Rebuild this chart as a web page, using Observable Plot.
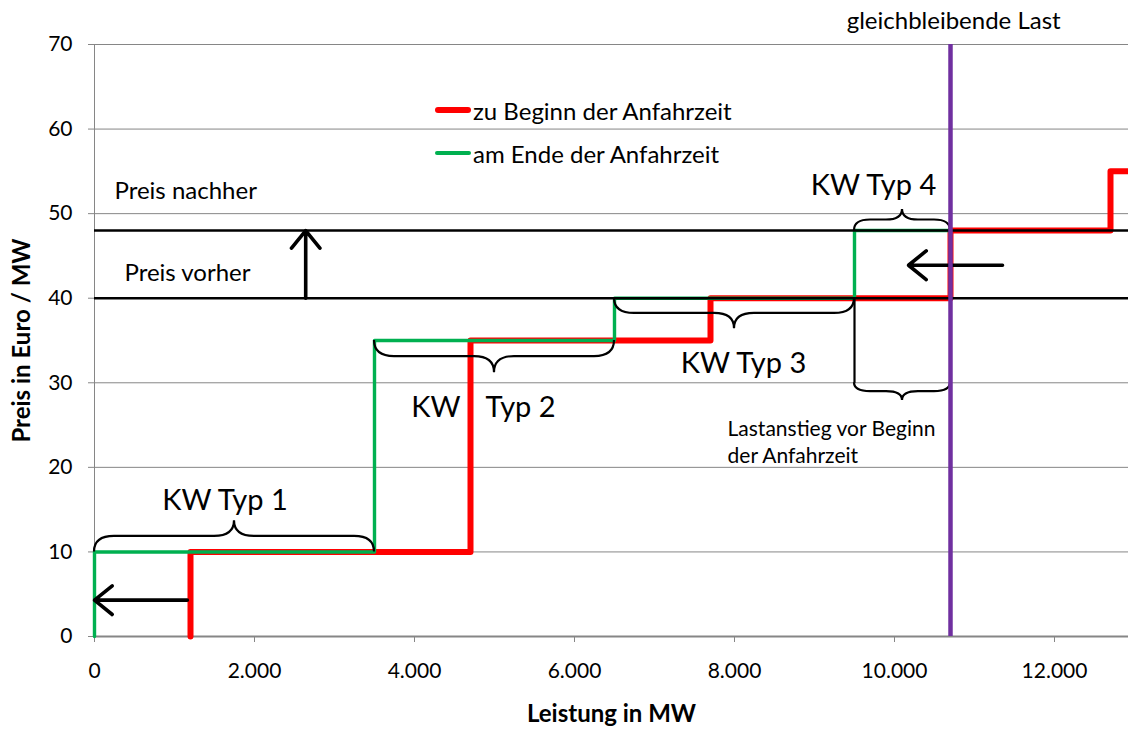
<!DOCTYPE html>
<html><head><meta charset="utf-8">
<script src="https://cdn.jsdelivr.net/npm/d3@7"></script>
<script src="https://cdn.jsdelivr.net/npm/@observablehq/plot@0.6"></script>
<style>
html,body{margin:0;padding:0;background:#fff;}
#wrap{position:relative;width:1128px;height:729px;font-family:Lato,sans-serif;}
.legend{position:absolute;left:435px;top:96px;font-size:24px;color:#000;}
.row{display:flex;align-items:center;height:28px;margin-bottom:15px;}
.sw{width:36px;border-radius:3px;margin-right:2px;}
</style></head><body><div id="wrap"></div>
<script>
// ---- data ----
const xMax = 12925;
const xTicks = [0, 2000, 4000, 6000, 8000, 10000, 12000];
const yTicks = [0, 10, 20, 30, 40, 50, 60, 70];
const redX = [1200, 1200, 4700, 7700, 10700, 12700, xMax];
const redY = [0, 10, 35, 40, 48, 55, 55];
const greenX = [0, 0, 3500, 6500, 9500, 10700];
const greenY = [0, 10, 35, 40, 48, 48];
const priceLevels = [40, 48];
const loadX = [10700];
const seriesNames = ["zu Beginn der Anfahrzeit", "am Ende der Anfahrzeit"];
const seriesColors = ["#FF0000", "#00B050"];

// braces: from x1 to x2 at level y, tip at tipY
const braceX1 = [0, 3500, 6500, 9500, 9500];
const braceX2 = [3500, 6500, 9500, 10700, 10700];
const braceY = [10, 35, 40, 48, 30];
const braceTipY = [13.7, 31.2, 36.4, 50.5, 27.9];
const braceVX = [9500, 10700];
const braceVY1 = [30, 30];
const braceVY2 = [40, 40];

// arrows
const arrowX1 = [2640, 1160, 11350];
const arrowY1 = [40, 4.3, 43.9];
const arrowX2 = [2640, 0, 10175];
const arrowY2 = [48, 4.3, 43.9];

// annotations
const priceTexts = ["Preis nachher", "Preis vorher"];
const priceX = [250, 375];
const priceY = [52.6, 43.0];
const kwMidTexts = ["KW Typ 1", "KW Typ 3", "KW Typ 4"];
const kwMidX = [1631, 8113, 9738];
const kwMidY = [16, 32.3, 53.3];
const kwEndTexts = ["KW"];
const kwEndX = [4575];
const kwEndY = [27.1];
const kwStartTexts = ["Typ 2"];
const kwStartX = [4888];
const kwStartY = [27.1];
const noteText = ["Lastanstieg vor Beginn\nder Anfahrzeit"];
const noteX = [7913];
const noteY = [23.1];
const loadText = ["gleichbleibende Last"];
const loadTextX = [10740];
const loadTextY = [72.8];
const xTitle = "Leistung in MW";
const yTitle = "Preis in Euro / MW";

// ---- build ----
const red = redX.map((x, i) => ({x, y: redY[i]}));
const green = greenX.map((x, i) => ({x, y: greenY[i]}));
const arrows = arrowX1.map((x1, i) => ({x1, y1: arrowY1[i], x2: arrowX2[i], y2: arrowY2[i]}));
const bverts = braceVX.map((x, i) => ({x, y1: braceVY1[i], y2: braceVY2[i]}));
const zip = (t, X, Y) => t.map((text, i) => ({text, x: X[i], y: Y[i]}));
const deFmt = d3.formatLocale({decimal: ",", thousands: ".", grouping: [3], currency: ["", "€"]}).format(",d");

function braces(index, scales) {
  const g = d3.create("svg:g").attr("fill", "none").attr("stroke", "black").attr("stroke-width", 2.2);
  for (let i = 0; i < braceX1.length; i++) {
    const x1 = scales.x(braceX1[i]), x2 = scales.x(braceX2[i]);
    const y0 = scales.y(braceY[i]), yt = scales.y(braceTipY[i]);
    const xm = (x1 + x2) / 2, ym = (y0 + yt) / 2;
    const c = Math.min(20, (x2 - x1) / 6);
    const p = d3.path();
    p.moveTo(x1, y0);
    p.quadraticCurveTo(x1, ym, x1 + c, ym);
    p.lineTo(xm - c, ym);
    p.quadraticCurveTo(xm, ym, xm, yt);
    p.quadraticCurveTo(xm, ym, xm + c, ym);
    p.lineTo(x2 - c, ym);
    p.quadraticCurveTo(x2, ym, x2, y0);
    g.append("path").attr("d", p.toString());
  }
  return g.node();
}

const chart = Plot.plot({
  width: 1128, height: 729,
  marginLeft: 94, marginRight: 0, marginTop: 44, marginBottom: 93,
  style: {fontFamily: "Lato, sans-serif", fontSize: "21px", color: "#000", background: "#fff"},
  x: {domain: [0, xMax]},
  y: {domain: [0, 70]},
  marks: [
    Plot.gridY(yTicks.slice(1), {stroke: "#868686", strokeOpacity: 1, strokeWidth: 1}),
    Plot.ruleX([0], {stroke: "#868686", strokeWidth: 1}),
    Plot.ruleY([0], {stroke: "#868686", strokeWidth: 2}),
    Plot.axisX(xTicks, {tickSize: 6, tickPadding: 21, tickFormat: deFmt, stroke: "#868686", label: null, fontSize: 21}),
    Plot.axisY(yTicks, {tickSize: 6, tickPadding: 16, stroke: "#868686", label: null, fontSize: 21}),
    Plot.line(red, {x: "x", y: "y", curve: "step-after", stroke: seriesColors[0], strokeWidth: 6, strokeLinejoin: "round"}),
    Plot.line(green, {x: "x", y: "y", curve: "step-after", stroke: seriesColors[1], strokeWidth: 3.4, strokeLinejoin: "round"}),
    Plot.ruleY(priceLevels, {stroke: "black", strokeWidth: 2.5}),
    Plot.link(bverts, {x1: "x", y1: "y1", x2: "x", y2: "y2", stroke: "black", strokeWidth: 2.2}),
    braces,
    Plot.arrow(arrows, {x1: "x1", y1: "y1", x2: "x2", y2: "y2", stroke: "black", strokeWidth: 3.6, headLength: 9.5, headAngle: 78}),
    Plot.ruleX(loadX, {stroke: "#7030A0", strokeWidth: 4.5}),
    Plot.text(zip(priceTexts, priceX, priceY), {x: "x", y: "y", text: "text", textAnchor: "start", fontSize: 24}),
    Plot.text(zip(kwMidTexts, kwMidX, kwMidY), {x: "x", y: "y", text: "text", textAnchor: "middle", fontSize: 29}),
    Plot.text(zip(kwEndTexts, kwEndX, kwEndY), {x: "x", y: "y", text: "text", textAnchor: "end", fontSize: 29}),
    Plot.text(zip(kwStartTexts, kwStartX, kwStartY), {x: "x", y: "y", text: "text", textAnchor: "start", fontSize: 29}),
    Plot.text(zip(noteText, noteX, noteY), {x: "x", y: "y", text: "text", textAnchor: "start", fontSize: 21, lineHeight: 1.29}),
    Plot.text(zip(loadText, loadTextX, loadTextY), {x: "x", y: "y", text: "text", textAnchor: "middle", fontSize: 24}),
    Plot.text([xTitle], {frameAnchor: "bottom", dy: 85, textAnchor: "middle", fontWeight: "bold", fontSize: 24}),
    Plot.text([yTitle], {frameAnchor: "left", dx: -72, rotate: -90, textAnchor: "middle", lineAnchor: "middle", fontWeight: "bold", fontSize: 24})
  ]
});
const wrap = document.getElementById("wrap");
wrap.appendChild(chart);
const legend = document.createElement("div");
legend.className = "legend";
seriesNames.forEach((n, i) => {
  const row = document.createElement("div");
  row.className = "row";
  const sw = document.createElement("span");
  sw.className = "sw";
  sw.style.background = seriesColors[i];
  sw.style.height = i === 0 ? "6px" : "4.5px";
  const t = document.createElement("span");
  t.textContent = n;
  row.appendChild(sw); row.appendChild(t);
  legend.appendChild(row);
});
wrap.appendChild(legend);
</script></body></html>
